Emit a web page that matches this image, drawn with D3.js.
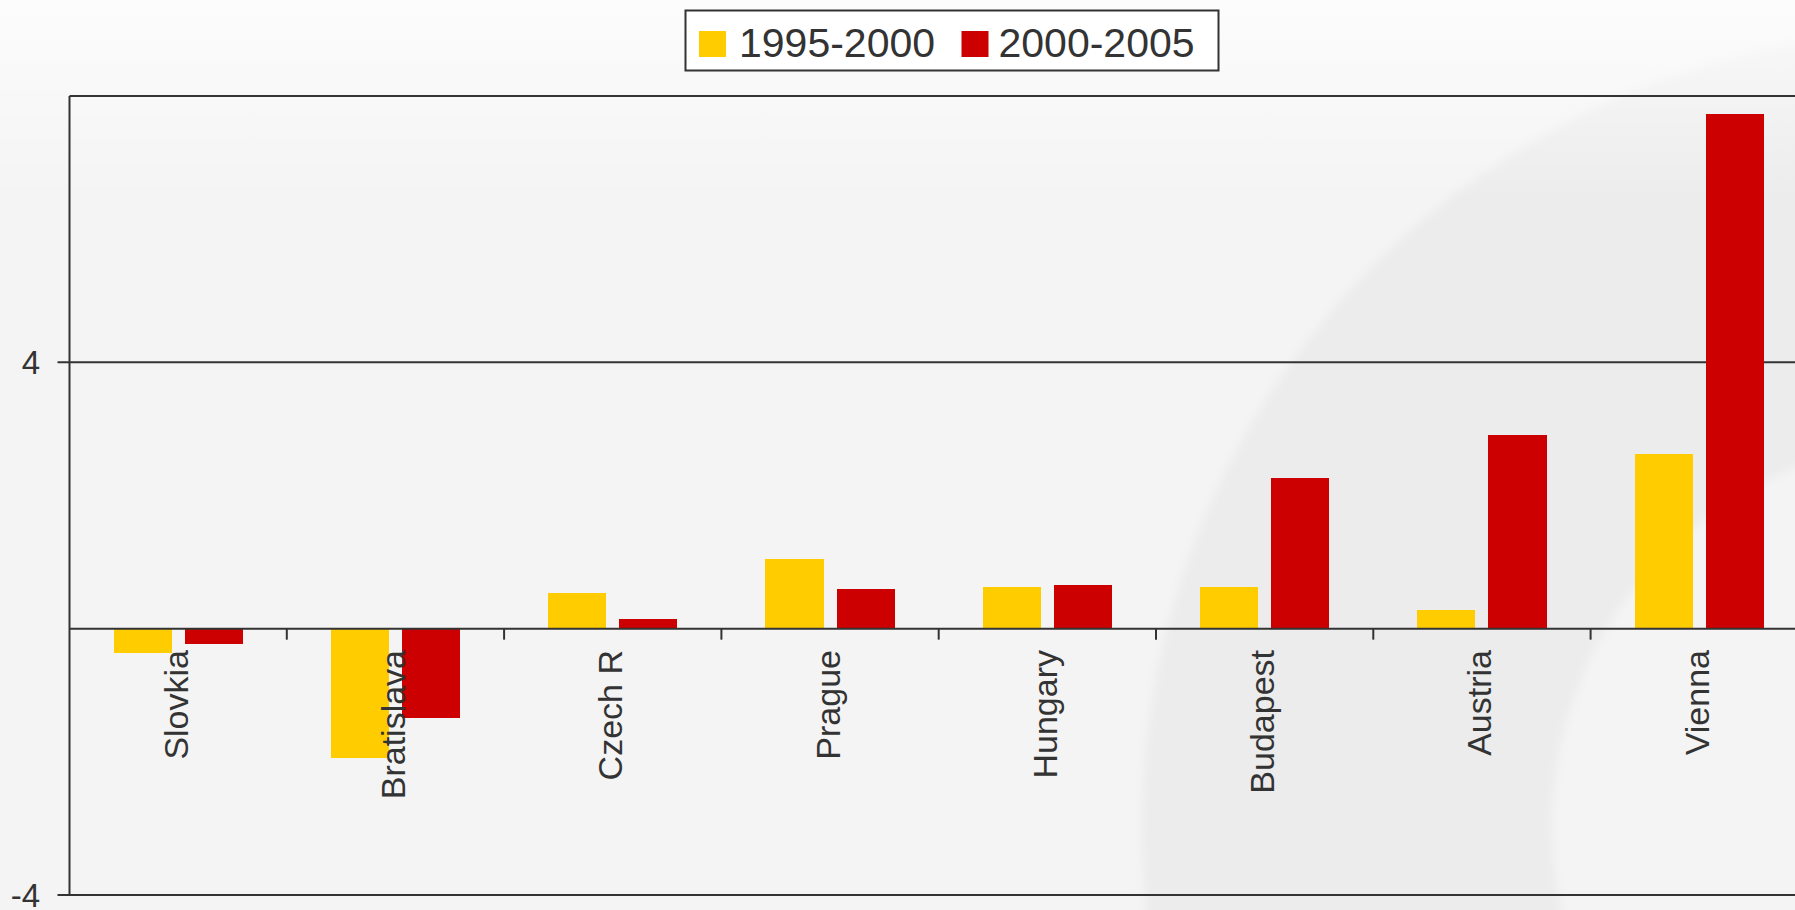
<!DOCTYPE html>
<html>
<head>
<meta charset="utf-8">
<script src="https://cdn.jsdelivr.net/npm/d3@7"></script>
<style>
  html, body { margin: 0; padding: 0; overflow: hidden; background: #f4f4f4; }
  svg { display: block; }
  text { font-family: "Liberation Sans", Arial, Helvetica, sans-serif; fill: #333; }
</style>
</head>
<body>
<script>
// Population change by region, two periods
const categories = ["Slovkia", "Bratislava", "Czech R", "Prague", "Hungary", "Budapest", "Austria", "Vienna"];
const seriesNames = ["1995-2000", "2000-2005"];
const values1995_2000 = [-0.36, -1.94, 0.54, 1.04, 0.63, 0.63, 0.28, 2.62];
const values2000_2005 = [-0.23, -1.34, 0.15, 0.60, 0.66, 2.27, 2.91, 7.73];
const seriesColors = ["#ffcc00", "#cc0000"];
const yDomain = [-4, 8];
const yTickValues = [-4, 4];

const W = 1795, H = 910;
const plotLeft = 69.5, bandStep = 217.3;
const plotTop = 96, plotBottom = 895;

const svg = d3.select("body").append("svg").attr("width", W).attr("height", H);
const defs = svg.append("defs");

// soft background: flat grey, a large pale ring on the right, a light wash at the top
const blur = defs.append("filter").attr("id", "soft").attr("x", "-20%").attr("y", "-20%").attr("width", "140%").attr("height", "140%");
blur.append("feGaussianBlur").attr("stdDeviation", 5);
const wash = defs.append("linearGradient").attr("id", "wash").attr("x1", 0).attr("y1", 0).attr("x2", 0).attr("y2", 1);
wash.append("stop").attr("offset", "0%").attr("stop-color", "#fff").attr("stop-opacity", 0.75);
wash.append("stop").attr("offset", "100%").attr("stop-color", "#fff").attr("stop-opacity", 0);

svg.append("rect").attr("width", W).attr("height", H).attr("fill", "#f4f4f4");
const ring = d3.arc()({ innerRadius: 385, outerRadius: 795, startAngle: 0, endAngle: 2 * Math.PI });
svg.append("path").attr("d", ring).attr("transform", "translate(1937,826)")
  .attr("fill", "#ececec").attr("filter", "url(#soft)");
svg.append("rect").attr("width", W).attr("height", 200).attr("fill", "url(#wash)");

// scales
const x = d3.scaleBand().domain(categories).range([plotLeft, plotLeft + bandStep * categories.length]).paddingInner(0).paddingOuter(0);
const xs = d3.scaleBand().domain(seriesNames).range([0, x.bandwidth()]).paddingInner(0.183).paddingOuter(0.62);
const y = d3.scaleLinear().domain(yDomain).range([plotBottom, plotTop]);

const lineColor = "#333";

// horizontal gridlines (top frame and value ticks)
[yDomain[1], ...yTickValues].forEach(v => {
  svg.append("line").attr("x1", v === yDomain[1] ? plotLeft : plotLeft - 12).attr("x2", W)
    .attr("y1", y(v)).attr("y2", y(v)).attr("stroke", lineColor).attr("stroke-width", 2);
});

// y axis line
svg.append("line").attr("x1", plotLeft).attr("x2", plotLeft).attr("y1", plotTop).attr("y2", plotBottom)
  .attr("stroke", lineColor).attr("stroke-width", 2);

// y tick labels (plain hyphen for negatives)
svg.append("g").selectAll("text").data(yTickValues).join("text")
  .attr("x", 40).attr("y", d => y(d)).attr("dy", "0.36em")
  .attr("text-anchor", "end").attr("font-size", 33)
  .text(d => String(d));

// bars
const rows = categories.map((c, i) => ({ cat: c, vals: [values1995_2000[i], values2000_2005[i]] }));
const groups = svg.append("g").selectAll("g").data(rows).join("g")
  .attr("transform", d => `translate(${x(d.cat)},0)`);
groups.selectAll("rect").data(d => d.vals.map((v, k) => ({ v, k }))).join("rect")
  .attr("x", d => xs(seriesNames[d.k]))
  .attr("width", xs.bandwidth())
  .attr("y", d => y(Math.max(0, d.v)))
  .attr("height", d => Math.abs(y(d.v) - y(0)))
  .attr("fill", d => seriesColors[d.k])
  .attr("shape-rendering", "crispEdges");

// category axis at zero
svg.append("line").attr("x1", plotLeft).attr("x2", W).attr("y1", y(0)).attr("y2", y(0))
  .attr("stroke", lineColor).attr("stroke-width", 2);
svg.append("g").selectAll("line").data(categories.slice(1)).join("line")
  .attr("x1", d => x(d)).attr("x2", d => x(d))
  .attr("y1", y(0)).attr("y2", y(0) + 11)
  .attr("stroke", lineColor).attr("stroke-width", 2);

// category labels
svg.append("g").selectAll("text").data(categories).join("text")
  .attr("transform", d => `translate(${x(d) + x.bandwidth() / 2},650) rotate(-90)`)
  .attr("text-anchor", "end").attr("dy", "0.28em").attr("font-size", 34)
  .text(d => d);

// legend
const lg = svg.append("g");
lg.append("rect").attr("x", 685.5).attr("y", 10.5).attr("width", 533).attr("height", 60)
  .attr("fill", "#fff").attr("stroke", lineColor).attr("stroke-width", 2);
const legendItems = [
  { name: seriesNames[0], color: seriesColors[0], sx: 699, tx: 739 },
  { name: seriesNames[1], color: seriesColors[1], sx: 961.5, tx: 998.5 }
];
legendItems.forEach(it => {
  lg.append("rect").attr("x", it.sx).attr("y", 31).attr("width", 27).attr("height", 26).attr("fill", it.color);
  lg.append("text").attr("x", it.tx).attr("y", 57).attr("font-size", 41).text(it.name);
});
</script>
</body>
</html>
